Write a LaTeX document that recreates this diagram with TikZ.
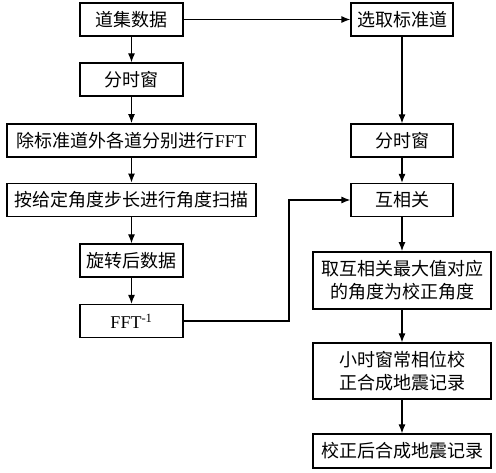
\documentclass[tikz,border=0pt]{standalone}
\usepackage{fontspec}
\setmainfont{Liberation Serif}
\newfontfamily\cjk{Noto Sans CJK SC}
\usetikzlibrary{arrows.meta}
\begin{document}
\begin{tikzpicture}[x=1pt,y=-1pt,
  box/.style={draw, line width=1.2pt, inner sep=0pt, font=\fontsize{18}{23}\selectfont, align=center},
  thick box/.style={box, line width=1.9pt},
  arr/.style={line width=1.2pt, -{Latex[length=9pt,width=7pt]}},
  ln/.style={line width=1.2pt}]
\useasboundingbox (0,0) rectangle (496,473);
% left column
\node[box, minimum width=103pt, minimum height=33pt] (a) at (131.5,19.5) {\cjk 道集数据};
\node[box, minimum width=103pt, minimum height=33pt] (b) at (131.5,79.5) {\cjk 分时窗};
\node[thick box, minimum width=249pt, minimum height=33pt] (c) at (131.5,140.5) {{\cjk 除标准道外各道分别进行}FFT};
\node[thick box, minimum width=249pt, minimum height=33pt] (d) at (131.5,200) {\cjk 按给定角度步长进行角度扫描};
\node[box, minimum width=103pt, minimum height=33pt] (e) at (131.5,260.5) {\cjk 旋转后数据};
\node[box, minimum width=103pt, minimum height=33pt] (f) at (131.5,321) {FFT\textsuperscript{-1}};
% right column
\node[box, minimum width=102pt, minimum height=33pt] (g) at (402,19.5) {\cjk 选取标准道};
\node[box, minimum width=102pt, minimum height=33pt] (h) at (402,140.5) {\cjk 分时窗};
\node[box, minimum width=102pt, minimum height=33pt] (i) at (402,200) {\cjk 互相关};
\node[thick box, minimum width=178pt, minimum height=57pt] (j) at (402,280.5) {\cjk 取互相关最大值对应\\\cjk 的角度为校正角度};
\node[box, minimum width=178pt, minimum height=56pt] (k) at (402,371) {\cjk 小时窗常相位校\\\cjk 正合成地震记录};
\node[box, minimum width=178pt, minimum height=34pt] (l) at (402,451) {\cjk 校正后合成地震记录};
\coordinate (p1) at (289,321);
\coordinate (p2) at (289,200);
% connectors
\draw[arr] (a) -- (b);
\draw[arr] (b) -- (c);
\draw[arr] (c) -- (d);
\draw[arr] (d) -- (e);
\draw[arr] (e) -- (f);
\draw[arr] (a) -- (g);
\draw[arr] (g) -- (h);
\draw[arr] (h) -- (i);
\draw[arr] (i) -- (j);
\draw[arr] (j) -- (k);
\draw[arr] (k) -- (l);
\draw[arr] (f.east) -- (p1) -- (p2) -- (i.west);
\end{tikzpicture}
\end{document}
